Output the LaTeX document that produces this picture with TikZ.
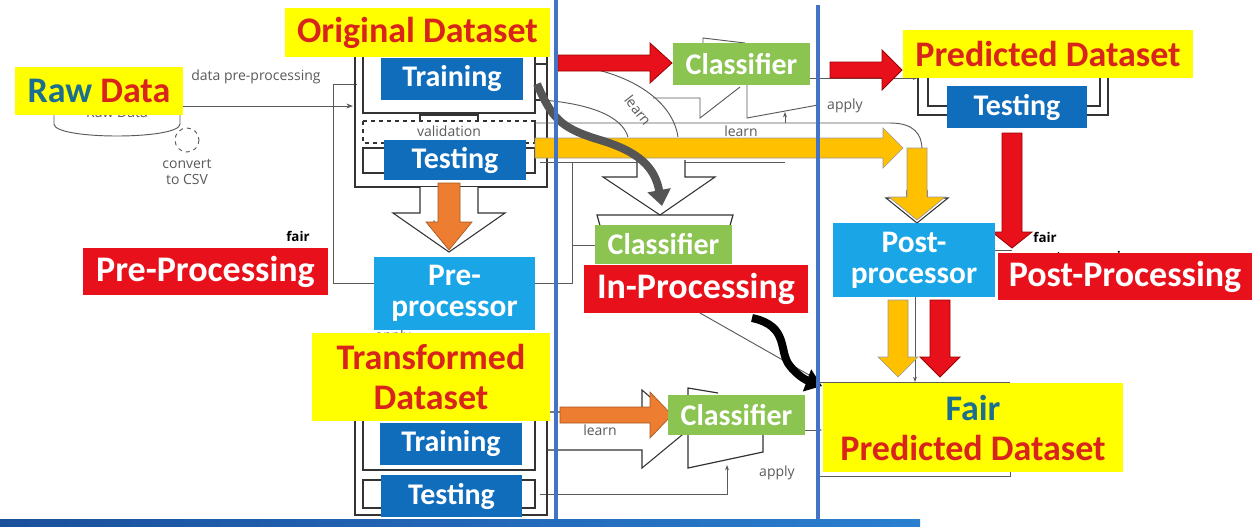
\documentclass[tikz,border=0pt]{standalone}
\usepackage{fontspec}
\setmainfont{Carlito}
\newfontfamily\smf{Open Sans}
\usetikzlibrary{arrows.meta,calc}
\definecolor{ylw}{HTML}{FFFF00}
\definecolor{redt}{HTML}{D9241B}
\definecolor{redb}{HTML}{E8101A}
\definecolor{blueb}{HTML}{0F6DBC}
\definecolor{cyanb}{HTML}{1AA5E6}
\definecolor{greenb}{HTML}{8CC452}
\definecolor{tealt}{HTML}{1C6E8F}
\definecolor{orng}{HTML}{ED7D31}
\definecolor{ambr}{HTML}{FFC000}
\definecolor{vblue}{HTML}{4472C4}
\definecolor{linec}{HTML}{5A5A5A}
\definecolor{darkg}{HTML}{555555}
\definecolor{barl}{HTML}{1A4F9C}
\definecolor{barr}{HTML}{2A7FD0}
\newcommand{\blkR}[7]{\filldraw[#1] ({#2},{#4-#5}) -- ({#3-#7},{#4-#5}) -- ({#3-#7},{#4-#6}) -- ({#3},{#4}) -- ({#3-#7},{#4+#6}) -- ({#3-#7},{#4+#5}) -- ({#2},{#4+#5}) -- cycle;}
\newcommand{\blkD}[7]{\filldraw[#1] ({#2-#5},{#3}) -- ({#2-#5},{#4-#7}) -- ({#2-#6},{#4-#7}) -- ({#2},{#4}) -- ({#2+#6},{#4-#7}) -- ({#2+#5},{#4-#7}) -- ({#2+#5},{#3}) -- cycle;}
\tikzset{
  px/.style 2 args={minimum width=#1*0.75pt, minimum height=#2*0.75pt},
  bx/.style={inner sep=0pt, outer sep=0pt, align=center, text=white, font=\bfseries\fontsize{22.5}{24}\selectfont},
  ybx/.style={bx, fill=ylw, text=redt, font=\bfseries\fontsize{27}{30}\selectfont},
  rbx/.style={bx, fill=redb, font=\bfseries\fontsize{27}{28}\selectfont},
  bbx/.style={bx, fill=blueb},
  cbx/.style={bx, fill=cyanb, font=\bfseries\fontsize{23.5}{23.5}\selectfont},
  gbx/.style={bx, fill=greenb},
  gl/.style={draw=linec, line width=0.7pt},
  ol/.style={draw=black!80, line width=0.9pt},
  gtx/.style={text=linec, font=\smf\fontsize{10.5}{12}\selectfont, inner sep=0pt, align=center},
  btx/.style={text=black, font=\smf\bfseries\fontsize{10}{11}\selectfont, inner sep=0pt},
  hollow/.style={fill=white, draw=black!80, line width=0.8pt},
  redA/.style={fill=redb, draw=red!60!black, line width=0.6pt},
  orA/.style={fill=orng, draw=orng!70!black, line width=0.5pt},
  amA/.style={fill=ambr, draw=black!40, line width=0.5pt},
}
\begin{document}
\begin{tikzpicture}[x=0.75pt,y=-0.75pt]
\fill[white] (0,0) rectangle (1252,526);
\path[use as bounding box] (0,0) rectangle (1252,526);

% ---------- left: raw data ----------
\draw[gl] (54,112) -- (54,124) .. controls (54,140) and (180,140) .. (180,124) -- (180,112);
\node[gtx] (rawhid) at (117,113) {Raw Data};
\draw[gl, dashed] (187,140) circle (12);
\node[gtx] (csv) at (187,172) {convert\\to CSV};
\node[gtx] (dpp) at (256,77) {data pre-processing};
\draw[gl,-{Stealth[length=5pt]}] (183,106) -- (353,106);
\draw[gl] (333,84) -- (357,84);
\draw[gl] (333,84) -- (333,283) -- (374,283);
\draw[gl] (535,283) -- (572,283) -- (572,162);
\draw[gl] (572,245) -- (595,245);
\node[btx] (fair1) at (298,236) {fair};

% ---------- original dataset outlines ----------
\draw[ol] (355,57) -- (355,187) -- (547,187) -- (547,57);
\draw[ol] (363,57) -- (363,113) -- (535,113) -- (535,57);
\draw[ol] (420,121) -- (420,115) -- (478,115) -- (478,121);
\draw[ol, dashed] (363,121) rectangle (535,143);
\draw[ol] (535,121) -- (535,143);
\node[gtx] (valid) at (449,131) {validation};
\draw[ol] (363,148) rectangle (535,173);
\draw[ol] (535,100) -- (547,100);
\draw[ol] (535,64) -- (547,64);

% hollow arrow: dataset -> pre-processor
\filldraw[hollow] (420,187) -- (420,213) -- (393,213) -- (449,252) -- (505,213) -- (478,213) -- (478,187);
\node[gtx] (learn1) at (449,226) {learn};

% ---------- middle top ----------
\draw[gl] (543,100) .. controls (590,104) and (622,116) .. (628,137);
\draw[gl] (598,70) .. controls (645,82) and (674,108) .. (678,137);
\node[gtx, rotate=-52] (learn2) at (638,110) {learn};
\draw[gl] (653,98) -- (700,98) -- (700,118) -- (740,87);
\draw[gl] (747,85) -- (747,118) -- (818,105);
\draw[gl] (703,43) -- (703,38) -- (745,43);
\draw[gl,-{Stealth[length=4pt]}] (785,123) -- (785,112);
\draw[gl] (535,123) -- (890,123) .. controls (914,123) and (922,134) .. (922,150);
\node[gtx] (learn3) at (741,131) {learn};
\draw[gl] (540,162) -- (785,162);
\draw[gl,-{Stealth[length=4pt]}] (810,78) -- (918,78);
\node[gtx] (apply1) at (845,106) {apply};

% hollow arrow down to lower classifier
\filldraw[hollow] (637,160) -- (637,177) -- (603,177) -- (660,215) -- (715,177) -- (685,177) -- (685,160);
\draw[ol] (601,229) -- (597,215) -- (733,215) -- (729,229);

\blkR{amA}{535}{903}{148}{10}{20}{20}
\draw[darkg, line width=6pt, -{Triangle[length=12pt,width=17pt]}] (537,84) .. controls (552,118) and (560,128) .. (600,140) .. controls (640,152) and (655,168) .. (662,206);
\blkR{redA}{558}{672}{63}{8}{20}{22}

% ---------- middle bottom ----------
\filldraw[hollow] (548,412) -- (642,412) -- (642,390) -- (688,430) -- (642,468) -- (642,450) -- (548,450);
\node[gtx] (learn4) at (600,430) {learn};
\draw[ol] (718,393) -- (688,388) -- (688,468) -- (763,452) -- (763,430);
\draw[gl,-{Stealth[length=4pt]}] (540,494) -- (727,494) -- (727,465);
\node[gtx] (apply2) at (777,473) {apply};
\draw[gl] (700,313) -- (818,380);
\blkR{orA}{560}{672}{415}{8}{23}{22}
\draw[gl,-{Stealth[length=4pt]}] (805,430) -- (822,430);

% ---------- transformed dataset outlines ----------
\draw[ol] (355,420) -- (355,515) -- (547,515) -- (547,420);
\draw[ol] (363,420) -- (363,470) -- (535,470) -- (535,420);
\draw[ol] (363,480) rectangle (535,508);
\node[gtx] (apply3) at (393,337) {apply};

% ---------- right ----------
\blkR{redA}{830}{902}{70}{8}{20}{20}
\draw[ol] (918,78) -- (918,115) -- (1108,115) -- (1108,78);
\draw[ol] (928,78) -- (928,106) -- (947,106);
\draw[ol] (1087,106) -- (1100,106) -- (1100,78);
\filldraw[hollow] (907,190) -- (907,198) -- (886,198) -- (917,223) -- (948,198) -- (927,198) -- (927,190);
\blkD{amA}{917}{148}{220}{10}{28}{23}
\blkD{redA}{1012}{133}{248}{10}{20}{16}
\node[btx] (fair2) at (1045,237) {fair};
\node[btx] (pphid) at (1085,258) {post-processing};
\draw[gl] (995,250) -- (1012,250);
\draw[gl,-{Stealth[length=4pt]}] (915,297) -- (915,382);
\blkD{amA}{898}{300}{377}{10}{20}{20}
\blkD{redA}{940}{300}{377}{10}{20}{20}
\draw[gl] (820,382) -- (1010,382);
\draw[gl] (820,476) -- (1010,476) -- (1010,471);

% curvy black arrow
\draw[black, line width=6pt, -{Triangle[length=12pt,width=17pt]}] (752,318) .. controls (790,326) and (778,352) .. (790,366) .. controls (798,376) and (806,380) .. (822,386);

% ---------- boxes ----------
\node[ybx, px={168}{48}] (raw) at (99,91) {{\color{tealt}Raw} Data};
\node[ybx, px={265}{49}] (orig) at (417.5,32.5) {Original Dataset};
\node[bbx, px={142}{42}] (train1) at (452,79) {Training};
\node[bbx, px={142}{40}] (test1) at (455,160) {Testing};
\blkD{orA}{449}{183}{250}{11}{23}{28}
\node[rbx, px={245}{47}] (preP) at (205.5,271.5) {Pre-Processing};
\node[cbx, px={161}{73}] (prep) at (454.5,293.5) {Pre-\\processor};
\node[ybx, px={238}{88}] (trans) at (431,377) {Transformed\\Dataset};
\node[bbx, px={142}{42}] (train2) at (451,444) {Training};
\node[bbx, px={141}{42}] (test2) at (451.5,496) {Testing};
\node[gbx, px={137}{42}] (cls1) at (741.5,64) {Classifier};
\node[gbx, px={137}{39}] (cls2) at (663.5,244.5) {Classifier};
\node[rbx, px={224}{48}] (inP) at (696,289) {In-Processing};
\node[gbx, px={137}{40}] (cls3) at (736.5,415) {Classifier};
\node[ybx, px={290}{48}] (pred) at (1048,54) {Predicted Dataset};
\node[bbx, px={140}{42}] (test3) at (1017,107) {Testing};
\node[cbx, px={162}{74}] (post) at (914,260) {Post-\\processor};
\node[rbx, px={254}{47}] (postP) at (1125,276.5) {Post-Processing};
\node[ybx, px={300}{89}] (fairpd) at (973,427.5) {{\color{tealt}Fair}\\Predicted Dataset};

% ---------- dividers ----------
\draw[vblue, line width=3pt] (556,0) -- (556,520);
\draw[vblue, line width=3pt] (818,5) -- (818,520);
\shade[left color=barl, right color=barr] (0,519) rectangle (920,526);
\end{tikzpicture}
\end{document}
